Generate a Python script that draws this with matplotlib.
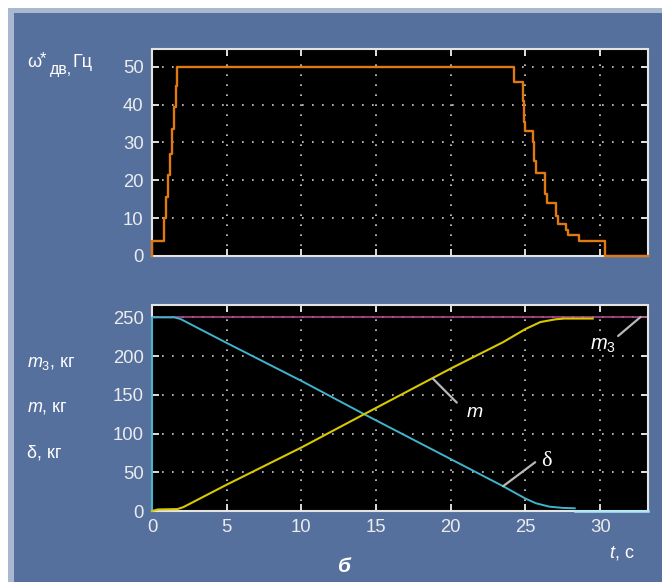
import matplotlib
matplotlib.use("Agg")
import matplotlib.pyplot as plt
from matplotlib.patches import Rectangle

plt.rcParams['font.family'] = ['Liberation Sans', 'DejaVu Sans']
plt.rcParams['mathtext.fontset'] = 'custom'
plt.rcParams['mathtext.rm'] = 'Liberation Sans'
plt.rcParams['mathtext.it'] = 'Liberation Sans:italic'
plt.rcParams['mathtext.bf'] = 'Liberation Sans:bold'

# частота задания на двигатель, Гц (ступенчатая)
w_t = [0, 0, 0.82, 0.96, 1.09, 1.23, 1.36, 1.47, 1.58, 1.69, 24.2, 24.8, 24.87, 25.0,
       25.5, 25.6, 25.7, 26.3, 26.45, 27.05, 27.15, 27.7, 27.85, 28.55, 30.35, 33.2]
w_v = [0, 4, 10, 15.5, 21.5, 27, 33.5, 39.5, 45, 50, 46, 41, 35.5, 33,
       30, 25, 22, 16.5, 14, 10.5, 8.5, 7, 5.5, 4, 0, 0]

# массы, кг
m3_t = [0, 33.2]
m3_v = [250, 250]
delta_t = [0, 0, 1.5, 1.9, 2.5, 5, 10, 14.2, 20, 23.5, 25, 25.7, 26.6, 27.5, 28.3]
delta_v = [0, 250, 250, 248, 242, 217, 168, 125, 67, 32, 16, 10, 5.6, 4, 3.5]
delta_tail_t = [28.3, 33.2]
delta_tail_v = [0, 0]
m_t = [0, 0.4, 1.7, 2.1, 5, 10, 14.2, 20, 23.5, 25, 26, 27, 27.6, 29.5]
m_v = [0, 2, 2.5, 5, 34, 82, 125, 184, 218, 235, 244, 247.5, 248.5, 248.5]

xticks = [0, 5, 10, 15, 20, 25, 30]
yticks_top = [0, 10, 20, 30, 40, 50]
yticks_bot = [0, 50, 100, 150, 200, 250]

W, H = 662, 582
BG = '#56709e'
FG = '#ececec'


def px(x, y):
    return x / W, 1 - y / H


fig = plt.figure(figsize=(W / 100, H / 100), dpi=100, facecolor='white')
fig.patches.append(Rectangle(px(8, H), (W - 8) / W, (H - 8) / H, transform=fig.transFigure,
                             facecolor='#a9b7d0', edgecolor='none', zorder=-2))
fig.patches.append(Rectangle(px(14, H), (W - 14) / W, (H - 13) / H, transform=fig.transFigure,
                             facecolor=BG, edgecolor='none', zorder=-1))


def style(ax, yt, ylim):
    ax.set_facecolor('black')
    ax.set_xlim(0, 33.2)
    ax.set_ylim(*ylim)
    ax.set_xticks(xticks)
    ax.set_yticks(yt)
    ax.grid(True, color='#d0d0d0', linestyle=(0, (1, 5)), linewidth=1.2)
    ax.set_axisbelow(True)
    ax.tick_params(direction='in', length=5, width=1.3, color=FG, labelcolor=FG,
                   labelsize=13.3, top=True, right=True, pad=6)
    for s in ax.spines.values():
        s.set_color('#e4e4e4')
        s.set_linewidth(1.5)


ax1 = fig.add_axes([152 / W, 1 - 256 / H, 496 / W, 207 / H])
style(ax1, yticks_top, (0, 54.7))
ax1.tick_params(labelbottom=False)
ax1.step(w_t, w_v, where='post', color='#e07a10', linewidth=1.7, clip_on=False, zorder=3)

ax2 = fig.add_axes([152 / W, 1 - 511 / H, 496 / W, 206 / H])
style(ax2, yticks_bot, (0, 266))
ax2.plot(m3_t, m3_v, color='#b0448a', linewidth=1.2)
ax2.plot(delta_t, delta_v, color='#40b4cc', linewidth=1.4, clip_on=False, zorder=3)
ax2.plot(delta_tail_t, delta_tail_v, color='#b0e8f8', linewidth=1.8, clip_on=False, zorder=3)
ax2.plot(m_t, m_v, color='#d8c800', linewidth=1.5, clip_on=False, zorder=3)

lead = dict(arrowstyle='-', color='#b8b8b8', linewidth=1.6, shrinkA=0, shrinkB=0)
ax2.annotate('', xy=(18.8, 171), xytext=(20.4, 140), arrowprops=lead)
ax2.annotate('', xy=(23.5, 32), xytext=(25.65, 63), arrowprops=lead)
ax2.annotate('', xy=(32.7, 250.5), xytext=(31.2, 226), arrowprops=lead)
ax2.text(21.0, 121, '$m$', color='white', fontsize=14, va='baseline')
ax2.text(26.05, 58, 'δ', color='white', fontsize=16, va='baseline', family='Liberation Serif')
ax2.text(29.3, 208, '$m_3$', color='white', fontsize=14.5, va='baseline')

# подпись сверху собрана по кускам: ω, звёздочка, индекс "дв", единицы
lab = dict(color='white', fontsize=13, va='baseline', ha='left')
fig.text(*px(27, 67), 'ω', **lab)
fig.text(*px(40, 63), '*', color='white', fontsize=12, va='baseline')
fig.text(*px(50, 74), 'дв,', color='white', fontsize=11.5, va='baseline')
fig.text(*px(72, 67), 'Гц', **lab)
fig.text(*px(27, 367), '$m_3$, кг', **lab)
fig.text(*px(27, 412), '$m$, кг', **lab)
fig.text(*px(27, 457), 'δ, кг', **lab)
fig.text(*px(609, 557), '$t$, с', color='white', fontsize=13, va='baseline')
fig.text(*px(337, 572), 'б', color='white', fontsize=15, va='baseline',
         style='italic', weight='bold')

fig.savefig('out.png', dpi=100, facecolor=fig.get_facecolor())
